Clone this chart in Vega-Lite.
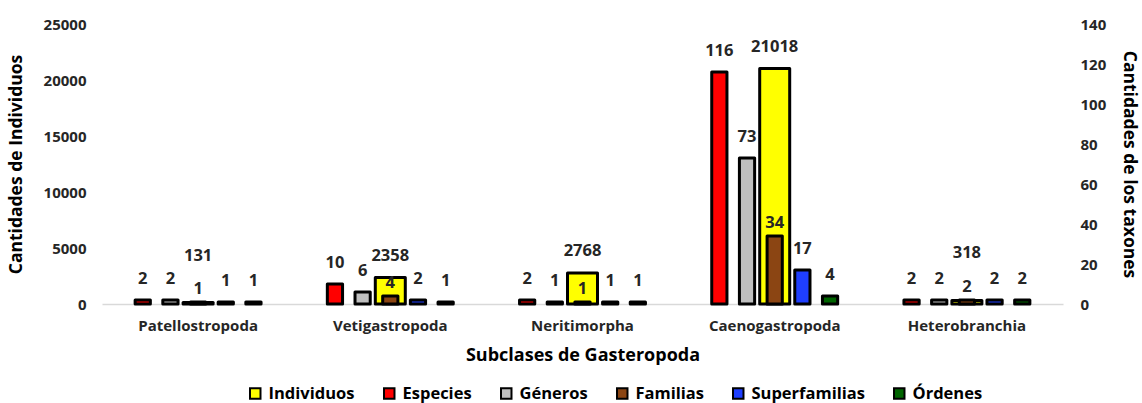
{
  "$schema": "https://vega.github.io/schema/vega-lite/v6.json",
  "width": 961,
  "height": 280,
  "autosize": {"type": "none"},
  "padding": {"left": 102, "top": 24, "right": 79, "bottom": 99},
  "background": "white",
  "config": {
    "view": {"stroke": null},
    "font": "Open Sans",
    "axis": {"labelFont": "Open Sans", "labelFontWeight": "bold", "labelFontSize": 15, "labelColor": "#262626", "titleFont": "Open Sans", "titleFontWeight": "bold", "titleFontSize": 17.5, "titleColor": "#000000", "grid": false, "ticks": false},
    "legend": {"labelFont": "Open Sans", "labelFontWeight": "bold", "labelFontSize": 16.5, "labelColor": "#000000"}
  },
  "datasets": {
    "ind": [
      {"subclase": "Patellostropoda", "serie": "Individuos", "valor": 131},
      {"subclase": "Vetigastropoda", "serie": "Individuos", "valor": 2358},
      {"subclase": "Neritimorpha", "serie": "Individuos", "valor": 2768},
      {"subclase": "Caenogastropoda", "serie": "Individuos", "valor": 21018},
      {"subclase": "Heterobranchia", "serie": "Individuos", "valor": 318}
    ],
    "taxa": [
      {"subclase": "Patellostropoda", "serie": "Especies", "valor": 2},
      {"subclase": "Patellostropoda", "serie": "Géneros", "valor": 2},
      {"subclase": "Patellostropoda", "serie": "Familias", "valor": 1},
      {"subclase": "Patellostropoda", "serie": "Superfamilias", "valor": 1},
      {"subclase": "Patellostropoda", "serie": "Órdenes", "valor": 1},
      {"subclase": "Vetigastropoda", "serie": "Especies", "valor": 10},
      {"subclase": "Vetigastropoda", "serie": "Géneros", "valor": 6},
      {"subclase": "Vetigastropoda", "serie": "Familias", "valor": 4},
      {"subclase": "Vetigastropoda", "serie": "Superfamilias", "valor": 2},
      {"subclase": "Vetigastropoda", "serie": "Órdenes", "valor": 1},
      {"subclase": "Neritimorpha", "serie": "Especies", "valor": 2},
      {"subclase": "Neritimorpha", "serie": "Géneros", "valor": 1},
      {"subclase": "Neritimorpha", "serie": "Familias", "valor": 1},
      {"subclase": "Neritimorpha", "serie": "Superfamilias", "valor": 1},
      {"subclase": "Neritimorpha", "serie": "Órdenes", "valor": 1},
      {"subclase": "Caenogastropoda", "serie": "Especies", "valor": 116},
      {"subclase": "Caenogastropoda", "serie": "Géneros", "valor": 73},
      {"subclase": "Caenogastropoda", "serie": "Familias", "valor": 34},
      {"subclase": "Caenogastropoda", "serie": "Superfamilias", "valor": 17},
      {"subclase": "Caenogastropoda", "serie": "Órdenes", "valor": 4},
      {"subclase": "Heterobranchia", "serie": "Especies", "valor": 2},
      {"subclase": "Heterobranchia", "serie": "Géneros", "valor": 2},
      {"subclase": "Heterobranchia", "serie": "Familias", "valor": 2},
      {"subclase": "Heterobranchia", "serie": "Superfamilias", "valor": 2},
      {"subclase": "Heterobranchia", "serie": "Órdenes", "valor": 2}
    ]
  },
  "encoding": {
    "x": {
      "field": "subclase",
      "type": "nominal",
      "sort": ["Patellostropoda", "Vetigastropoda", "Neritimorpha", "Caenogastropoda", "Heterobranchia"],
      "scale": {"paddingInner": 0.28, "paddingOuter": 0.14},
      "axis": {"title": "Subclases de Gasteropoda", "titleFontSize": 18, "labelAngle": 0, "labelPadding": 14, "titlePadding": 13, "domain": true, "domainColor": "#D9D9D9", "domainWidth": 1.5}
    }
  },
  "layer": [
    {
      "data": {"name": "ind"},
      "encoding": {
        "y": {"field": "valor", "type": "quantitative", "scale": {"domain": [0, 25000]}, "axis": {"title": "Cantidades de Individuos", "values": [0, 5000, 10000, 15000, 20000, 25000], "format": "d", "domain": false, "labelPadding": 16, "titlePadding": 18}}
      },
      "layer": [
        {
          "mark": {"type": "bar", "size": 30, "stroke": "#000000", "strokeWidth": 3, "strokeJoin": "round"},
          "encoding": {
            "color": {"field": "serie", "type": "nominal", "scale": {"domain": ["Individuos", "Especies", "Géneros", "Familias", "Superfamilias", "Órdenes"], "range": ["#FFFF00", "#FF0000", "#BFBFBF", "#8B4513", "#1F3FFF", "#006400"]}, "legend": {"title": null, "orient": "none", "direction": "horizontal", "legendX": 145, "legendY": 361, "symbolType": "square", "symbolSize": 110, "symbolStrokeColor": "#000000", "symbolStrokeWidth": 2, "columnPadding": 25, "labelOffset": 5}}
          }
        },
        {
          "transform": [{"filter": "datum.valor >= 1000"}],
          "mark": {"type": "text", "baseline": "middle", "dy": -22, "fontWeight": "bold", "fontSize": 16.5, "color": "#262626", "font": "Open Sans"},
          "encoding": {"text": {"field": "valor", "type": "quantitative", "format": "d"}}
        },
        {
          "transform": [{"filter": "datum.valor < 1000"}],
          "mark": {"type": "text", "baseline": "middle", "dy": -47, "fontWeight": "bold", "fontSize": 16.5, "color": "#262626", "font": "Open Sans"},
          "encoding": {"text": {"field": "valor", "type": "quantitative", "format": "d"}}
        }
      ]
    },
    {
      "data": {"name": "taxa"},
      "encoding": {
        "y": {"field": "valor", "type": "quantitative", "scale": {"domain": [0, 140]}, "axis": {"orient": "right", "title": "Cantidades de los taxones", "values": [0, 20, 40, 60, 80, 100, 120, 140], "domain": false, "labelPadding": 17, "titlePadding": 14}},
        "xOffset": {"field": "serie", "type": "nominal", "sort": ["Especies", "Géneros", "Familias", "Superfamilias", "Órdenes"], "scale": {"paddingInner": 0.45, "paddingOuter": 0.225}}
      },
      "layer": [
        {
          "mark": {"type": "bar", "stroke": "#000000", "strokeWidth": 3, "strokeJoin": "round"},
          "encoding": {
            "color": {"field": "serie", "type": "nominal"}
          }
        },
        {
          "transform": [{"filter": "datum.serie !== 'Familias'"}],
          "mark": {"type": "text", "baseline": "middle", "dy": -21, "fontWeight": "bold", "fontSize": 16.5, "color": "#262626", "font": "Open Sans"},
          "encoding": {"text": {"field": "valor", "type": "quantitative", "format": "d"}}
        },
        {
          "transform": [{"filter": "datum.serie === 'Familias'"}],
          "mark": {"type": "text", "baseline": "middle", "dy": -13, "fontWeight": "bold", "fontSize": 16.5, "color": "#262626", "font": "Open Sans"},
          "encoding": {"text": {"field": "valor", "type": "quantitative", "format": "d"}}
        }
      ]
    }
  ],
  "resolve": {"scale": {"y": "independent"}}
}
